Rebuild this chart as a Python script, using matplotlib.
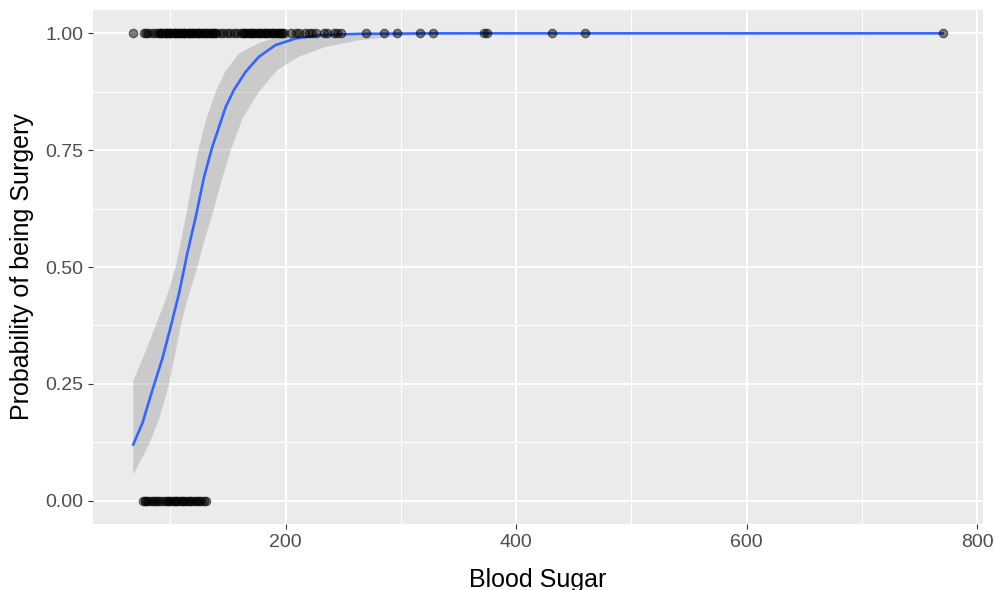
import matplotlib
matplotlib.use("Agg")
import matplotlib.pyplot as plt
import numpy as np

# Observations: blood sugar for patients with / without surgery
sugar_surgery = [68,
                 77, 79, 81, 84, 87, 89,
                 91, 92, 93, 95, 96, 97, 99, 100, 101, 103, 104, 105, 107, 108, 109,
                 111, 112, 113, 115, 116, 117, 119, 120, 121, 123, 124, 125, 127, 128,
                 130, 131, 133, 134, 136, 137, 139, 140,
                 143, 146, 149, 152, 155, 158, 161,
                 163, 164, 166, 167, 169, 170, 172, 173, 175, 176, 178, 179, 181, 182,
                 184, 185, 187, 188, 190, 191, 193, 194, 196, 197, 199,
                 205, 209, 212, 217, 220, 223, 226, 233, 236, 242, 245, 248,
                 270, 285, 297, 317, 328, 372, 375, 431, 460, 770]
sugar_no_surgery = [76, 78, 79, 81, 83, 85, 87, 88, 90, 93, 95, 97, 99, 100, 102, 104,
                    105, 107, 109, 110, 112, 114, 116, 117, 119, 121, 123, 125, 127,
                    129, 131]

# Fitted logistic curve and its confidence band
fit_x = [67.8, 75.8, 84.5, 93.2, 100.4, 107.6, 114.8, 122.1, 129.3, 136.4, 142.3,
         148.1, 155.2, 165.4, 176.9, 191.3, 208.7, 228.8, 262, 330, 450, 600, 770]
fit_y = [0.120, 0.166, 0.237, 0.305, 0.373, 0.444, 0.530, 0.608, 0.693, 0.757, 0.800,
         0.843, 0.879, 0.918, 0.950, 0.975, 0.989, 0.996, 0.999, 1.0, 1.0, 1.0, 1.0]
upper_x = [67.8, 77.0, 87.4, 96.0, 104.8, 110.0, 114.8, 119.5, 124.3, 131.0, 139.4,
           148.0, 159.6, 176.9, 188.0, 200, 228.8, 262, 770]
upper_y = [0.255, 0.310, 0.375, 0.430, 0.500, 0.565, 0.625, 0.690, 0.750, 0.815, 0.875,
           0.920, 0.957, 0.979, 0.988, 0.993, 0.998, 1.0, 1.0]
lower_x = [67.8, 72.0, 77.3, 83.1, 90.3, 99.0, 109.1, 116.0, 123.5, 130.5, 137.9, 145.0,
           152.4, 163.0, 176.9, 193.0, 211.5, 234.6, 263.5, 300, 360, 770]
lower_y = [0.056, 0.075, 0.100, 0.130, 0.175, 0.250, 0.375, 0.440, 0.500, 0.565, 0.625,
           0.690, 0.750, 0.820, 0.875, 0.922, 0.950, 0.971, 0.985, 0.995, 0.999, 1.0]

x_ticks = [200, 400, 600, 800]
y_ticks = [0.0, 0.25, 0.5, 0.75, 1.0]
y_tick_labels = ["0.00", "0.25", "0.50", "0.75", "1.00"]

plt.rcParams["font.family"] = ["Liberation Sans", "DejaVu Sans"]

fig = plt.figure(figsize=(9.95, 5.90), dpi=100)
ax = fig.add_axes([93 / 995, 1 - 524 / 590, 890 / 995, 514 / 590])
ax.set_facecolor("#EBEBEB")
for s in ax.spines.values():
    s.set_visible(False)

# ggplot-like expansion of the data range
all_x = sugar_surgery + sugar_no_surgery
xmin, xmax = min(all_x), max(all_x)
pad = 0.05 * (xmax - xmin)
ax.set_xlim(xmin - pad, xmax + pad)
ax.set_ylim(-0.05, 1.05)

ax.set_xticks(x_ticks)
ax.set_xticks([100, 300, 500, 700], minor=True)
ax.set_yticks(y_ticks)
ax.set_yticklabels(y_tick_labels)
ax.set_yticks([0.125, 0.375, 0.625, 0.875], minor=True)
ax.grid(which="major", color="white", linewidth=1.5)
ax.grid(which="minor", color="white", linewidth=0.75)
ax.set_axisbelow(True)
ax.tick_params(which="major", length=3.6, width=0.8, color="#333333",
               labelcolor="#4D4D4D", labelsize=14, pad=3.5)
ax.tick_params(which="minor", length=0)

# Confidence band as a closed polygon (upper edge then lower edge reversed)
band_x = list(upper_x) + list(lower_x[::-1])
band_y = list(upper_y) + list(lower_y[::-1])
ax.fill(band_x, band_y, color="#999999", alpha=0.4, linewidth=0, zorder=2)
ax.plot(fit_x, fit_y, color="#3366FF", linewidth=1.9, zorder=3)

ax.scatter(sugar_surgery, np.ones(len(sugar_surgery)), s=38, color="black",
           alpha=0.5, linewidths=0.8, zorder=4)
ax.scatter(sugar_no_surgery, np.zeros(len(sugar_no_surgery)), s=38, color="black",
           alpha=0.5, linewidths=0.8, zorder=4)

ax.set_xlabel("Blood Sugar", fontsize=18, color="black")
ax.xaxis.set_label_coords(0.5, -0.085)
ax.set_ylabel("Probability of being Surgery", fontsize=18, color="black")
ax.yaxis.set_label_coords(-0.066, 0.5)

fig.savefig("out.png", dpi=100, facecolor="white")
